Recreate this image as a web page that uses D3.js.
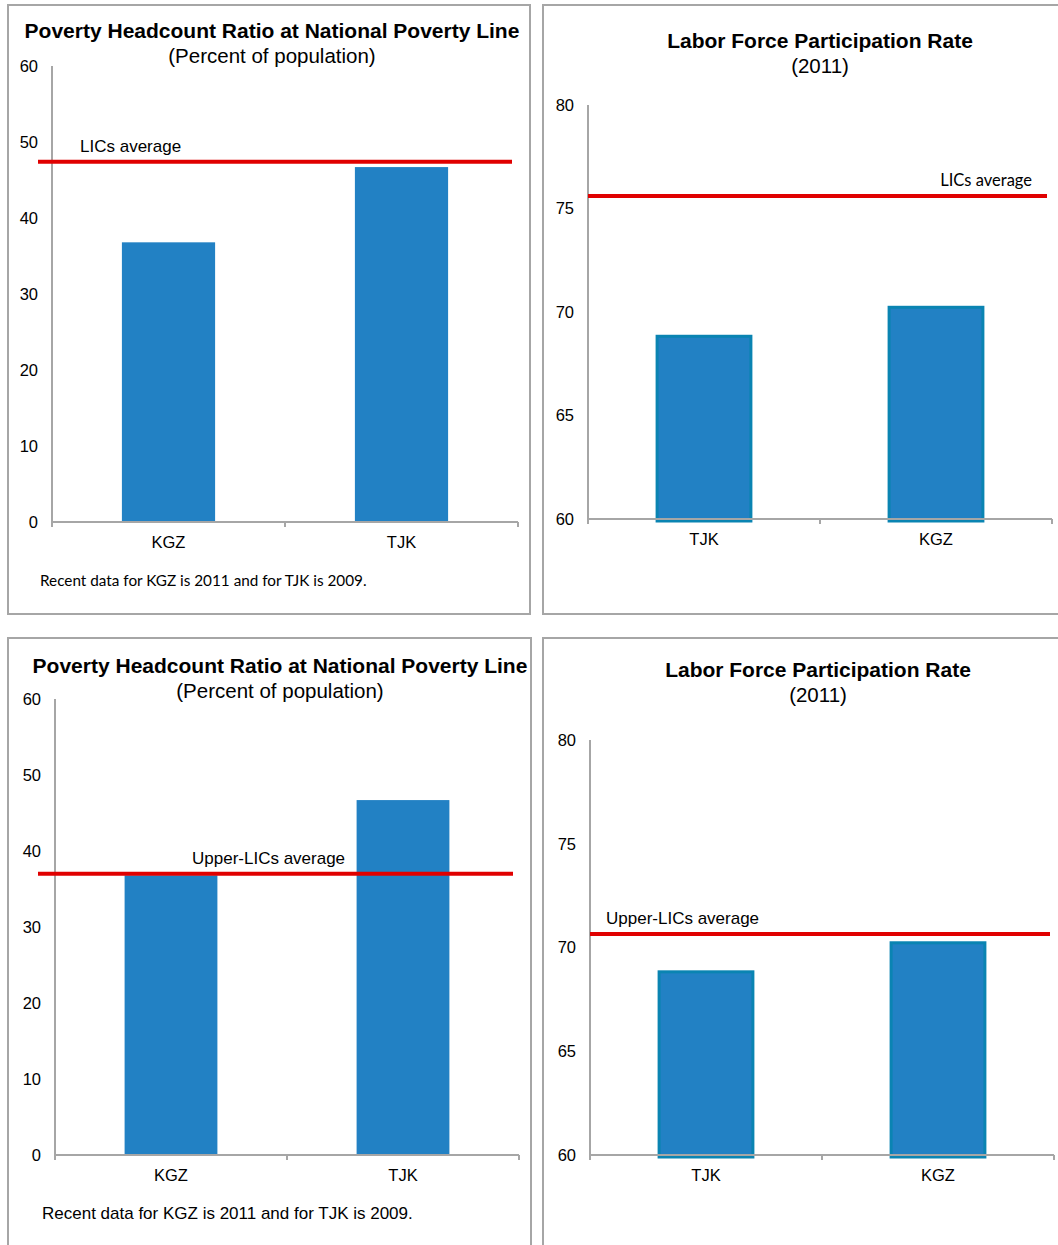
<!DOCTYPE html>
<html><head><meta charset="utf-8">
<script src="https://cdn.jsdelivr.net/npm/d3@7"></script>
<style>body{margin:0;background:#fff}svg{display:block}</style>
</head><body>
<script>
// ---- data ----
const povertyCategories = ["KGZ", "TJK"];
const povertyValues = [36.8, 46.7];
const povertyTicks = [0, 10, 20, 30, 40, 50, 60];
const laborCategories = ["TJK", "KGZ"];
const laborValues = [68.9, 70.3];
const laborTicks = [60, 65, 70, 75, 80];
const licsPovertyAvg = 47.4;
const upperLicsPovertyAvg = 37.0;
const licsLaborAvg = 75.6;
const upperLicsLaborAvg = 70.65;
const povertyTitle = "Poverty Headcount Ratio at National Poverty Line";
const povertySubtitle = "(Percent of population)";
const laborTitle = "Labor Force Participation Rate";
const laborSubtitle = "(2011)";
const footnote = "Recent data for KGZ is 2011 and for TJK is 2009.";

const W = 1058, H = 1245;
const svg = d3.select("body").append("svg").attr("width", W).attr("height", H);
const ARIAL = "'Liberation Sans', Arial, sans-serif";
const CAL = "Lato, 'Open Sans', sans-serif";
const AXIS = "#a6a6a6", RED = "#e00000", BLUE = "#2281c4", TEAL = "#0a84b2";

function panel(o) {
  const g = svg.append("g");
  g.append("rect").attr("x", o.box[0]).attr("y", o.box[1]).attr("width", o.box[2]).attr("height", o.box[3])
    .attr("fill", "none").attr("stroke", AXIS).attr("stroke-width", 2);
  g.append("text").attr("x", o.titleX).attr("y", o.titleY).attr("text-anchor", "middle")
    .attr("font-family", ARIAL).attr("font-weight", "bold").attr("font-size", 21).attr("fill", "#000").text(o.title);
  g.append("text").attr("x", o.titleX).attr("y", o.titleY + 25).attr("text-anchor", "middle")
    .attr("font-family", ARIAL).attr("font-size", 20.5).attr("fill", "#000").text(o.subtitle);

  const x = d3.scaleBand().domain(o.cats).range([o.x0, o.x1]).paddingInner(0.6).paddingOuter(0.3);
  const y = d3.scaleLinear().domain(o.domain).range([o.yBase, o.yTop]);

  // bars
  const ex = o.stroke ? 2 : 0, sw = o.stroke ? 3 : 0;
  g.selectAll("rect.bar").data(o.vals).enter().append("rect").attr("class", "bar")
    .attr("x", (d, i) => x(o.cats[i]) - ex + sw / 2)
    .attr("width", x.bandwidth() + 2 * ex - sw)
    .attr("y", d => y(d) + sw / 2)
    .attr("height", d => y(o.domain[0]) - y(d) + (o.stroke ? 0.5 : 0))
    .attr("fill", BLUE)
    .attr("stroke", o.stroke ? TEAL : "none").attr("stroke-width", sw);

  // y axis line
  g.append("line").attr("x1", o.x0).attr("x2", o.x0).attr("y1", y(o.domain[1])).attr("y2", y(o.domain[0]))
    .attr("stroke", AXIS).attr("stroke-width", 2);
  // x axis line
  g.append("line").attr("x1", o.x0).attr("x2", o.x1).attr("y1", o.yBase).attr("y2", o.yBase)
    .attr("stroke", AXIS).attr("stroke-width", 2);
  // x ticks at band boundaries
  const bounds = d3.range(o.cats.length + 1).map(i => o.x0 + i * (o.x1 - o.x0) / o.cats.length);
  g.selectAll("line.xt").data(bounds).enter().append("line").attr("class", "xt")
    .attr("x1", d => d).attr("x2", d => d).attr("y1", o.yBase).attr("y2", o.yBase + 5)
    .attr("stroke", AXIS).attr("stroke-width", 2);
  // y tick labels
  g.selectAll("text.yt").data(o.ticks).enter().append("text").attr("class", "yt")
    .attr("x", o.x0 - 14).attr("y", d => y(d)).attr("dy", "0.35em").attr("text-anchor", "end")
    .attr("font-family", ARIAL).attr("font-size", 16.5).attr("fill", "#000").text(d => d);
  // x labels
  g.selectAll("text.xl").data(o.cats).enter().append("text").attr("class", "xl")
    .attr("x", d => x(d) + x.bandwidth() / 2).attr("y", o.yBase + 26).attr("text-anchor", "middle")
    .attr("font-family", ARIAL).attr("font-size", 16.5).attr("fill", "#000").text(d => d);

  // average line
  g.append("line").attr("x1", o.lineX[0]).attr("x2", o.lineX[1]).attr("y1", y(o.avg)).attr("y2", y(o.avg))
    .attr("stroke", RED).attr("stroke-width", 4);
  g.append("text").attr("x", o.avgLabelX).attr("y", y(o.avg) - 10).attr("text-anchor", o.avgAnchor)
    .attr("font-family", o.avgFont).attr("font-size", o.avgSize).attr("fill", "#000").text(o.avgLabel);

  if (o.note) {
    g.append("text").attr("x", o.note.x).attr("y", o.note.y).attr("font-family", o.note.font)
      .attr("font-size", o.note.size).attr("fill", "#000").text(footnote);
  }
}

panel({box: [8, 5, 522, 609], title: povertyTitle, subtitle: povertySubtitle, titleX: 272, titleY: 38,
  cats: povertyCategories, vals: povertyValues, domain: [0, 60], ticks: povertyTicks,
  x0: 52, x1: 518, yBase: 522, yTop: 66, stroke: false,
  avg: licsPovertyAvg, lineX: [38, 512], avgLabel: "LICs average", avgLabelX: 80, avgAnchor: "start", avgFont: ARIAL, avgSize: 17,
  note: {x: 40, y: 586, font: CAL, size: 15.3}});

panel({box: [543, 5, 530, 609], title: laborTitle, subtitle: laborSubtitle, titleX: 820, titleY: 48,
  cats: laborCategories, vals: laborValues, domain: [60, 80], ticks: laborTicks,
  x0: 588, x1: 1052, yBase: 519, yTop: 105, stroke: true,
  avg: licsLaborAvg, lineX: [588, 1047], avgLabel: "LICs average", avgLabelX: 1032, avgAnchor: "end", avgFont: CAL, avgSize: 16.5});

panel({box: [8, 638, 523, 620], title: povertyTitle, subtitle: povertySubtitle, titleX: 280, titleY: 673,
  cats: povertyCategories, vals: povertyValues, domain: [0, 60], ticks: povertyTicks,
  x0: 55, x1: 519, yBase: 1155, yTop: 699, stroke: false,
  avg: upperLicsPovertyAvg, lineX: [38, 513], avgLabel: "Upper-LICs average", avgLabelX: 192, avgAnchor: "start", avgFont: ARIAL, avgSize: 17,
  note: {x: 42, y: 1219, font: ARIAL, size: 17}});

panel({box: [543, 638, 530, 620], title: laborTitle, subtitle: laborSubtitle, titleX: 818, titleY: 677,
  cats: laborCategories, vals: laborValues, domain: [60, 80], ticks: laborTicks,
  x0: 590, x1: 1054, yBase: 1155, yTop: 740, stroke: true,
  avg: upperLicsLaborAvg, lineX: [590, 1050], avgLabel: "Upper-LICs average", avgLabelX: 606, avgAnchor: "start", avgFont: ARIAL, avgSize: 17});
</script>
</body></html>
